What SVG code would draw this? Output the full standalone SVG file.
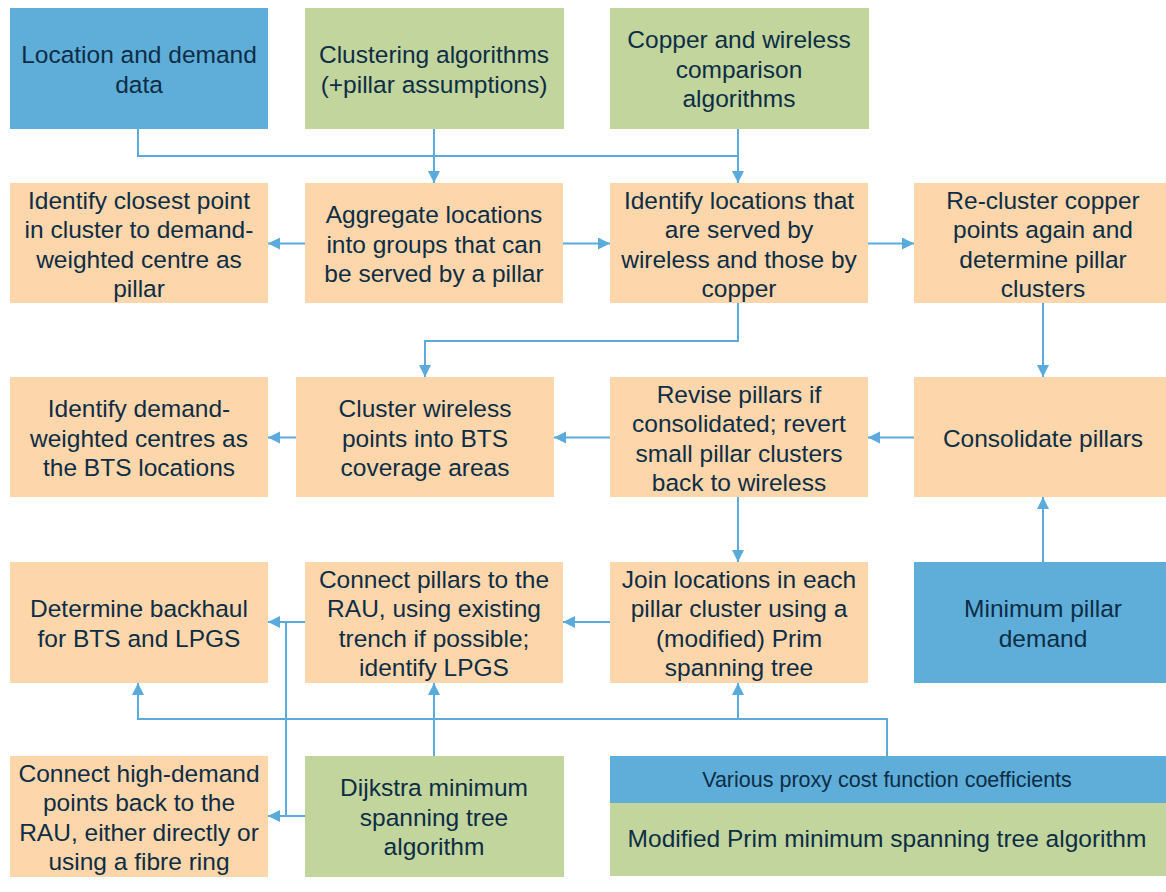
<svg xmlns="http://www.w3.org/2000/svg" width="1166" height="892" viewBox="0 0 1166 892">
  <style>
    .box { stroke: none; }
    .data { fill: #5faed9; }
    .algo { fill: #c1d59d; }
    .step { fill: #fdd6ab; }
    text { font-family: "Liberation Sans", Arial, sans-serif; font-size: 24.5px; fill: #0d2d45; text-anchor: middle; }
    text.small { font-size: 21.5px; }
    .conn path { fill: none; stroke: #5aaadc; stroke-width: 2; }
  </style>
  <defs>
    <marker id="arrow" markerUnits="userSpaceOnUse" markerWidth="13" markerHeight="13" refX="12" refY="6" orient="auto">
      <path d="M0,0 L12,6 L0,12 z" fill="#5aaadc"/>
    </marker>
  </defs>
  <rect width="1166" height="892" fill="#ffffff"/>

  <!-- connectors -->
  <g class="conn">
    <path d="M138,129 V156 H738"/>
    <path d="M434,129 V183" marker-end="url(#arrow)"/>
    <path d="M738,129 V183" marker-end="url(#arrow)"/>
    <path d="M305,243.5 H268" marker-end="url(#arrow)"/>
    <path d="M563,243.5 H610" marker-end="url(#arrow)"/>
    <path d="M868,243.5 H914" marker-end="url(#arrow)"/>
    <path d="M738,303 V341 H425 V377" marker-end="url(#arrow)"/>
    <path d="M1043,303 V377" marker-end="url(#arrow)"/>
    <path d="M914,437.5 H868" marker-end="url(#arrow)"/>
    <path d="M610,437.5 H554" marker-end="url(#arrow)"/>
    <path d="M296,437.5 H268" marker-end="url(#arrow)"/>
    <path d="M1043,562 V497" marker-end="url(#arrow)"/>
    <path d="M738,497 V562" marker-end="url(#arrow)"/>
    <path d="M610,622 H563" marker-end="url(#arrow)"/>
    <path d="M305,622 H268" marker-end="url(#arrow)"/>
    <path d="M286,622 V816"/>
    <path d="M305,816 H268" marker-end="url(#arrow)"/>
    <path d="M434,756 V683" marker-end="url(#arrow)"/>
    <path d="M887,756 V719 H138 V683" marker-end="url(#arrow)"/>
    <path d="M738,719 V683" marker-end="url(#arrow)"/>
  </g>

  <!-- row 1: inputs -->
  <g id="location-demand-data">
    <rect class="box data" x="10" y="8" width="258" height="121"/>
    <text x="139" y="63">Location and demand</text>
    <text x="139" y="93">data</text>
  </g>
  <g id="clustering-algorithms">
    <rect class="box algo" x="305" y="8" width="259" height="121"/>
    <text x="434" y="63">Clustering algorithms</text>
    <text x="434" y="93">(+pillar assumptions)</text>
  </g>
  <g id="copper-wireless-algorithms">
    <rect class="box algo" x="610" y="8" width="259" height="121"/>
    <text x="739" y="48">Copper and wireless</text>
    <text x="739" y="78">comparison</text>
    <text x="739" y="107">algorithms</text>
  </g>

  <!-- row 2 -->
  <g id="closest-point-pillar">
    <rect class="box step" x="10" y="183" width="258" height="120"/>
    <text x="139" y="208.5">Identify closest point</text>
    <text x="139" y="238">in cluster to demand-</text>
    <text x="139" y="267.5">weighted centre as</text>
    <text x="139" y="297">pillar</text>
  </g>
  <g id="aggregate-locations">
    <rect class="box step" x="305" y="183" width="258" height="120"/>
    <text x="434" y="223">Aggregate locations</text>
    <text x="434" y="252.5">into groups that can</text>
    <text x="434" y="282">be served by a pillar</text>
  </g>
  <g id="wireless-or-copper">
    <rect class="box step" x="610" y="183" width="258" height="120"/>
    <text x="739" y="208.5">Identify locations that</text>
    <text x="739" y="238">are served by</text>
    <text x="739" y="267.5">wireless and those by</text>
    <text x="739" y="297">copper</text>
  </g>
  <g id="recluster-copper">
    <rect class="box step" x="914" y="183" width="252" height="120"/>
    <text x="1043" y="208.5">Re-cluster copper</text>
    <text x="1043" y="238">points again and</text>
    <text x="1043" y="267.5">determine pillar</text>
    <text x="1043" y="297">clusters</text>
  </g>

  <!-- row 3 -->
  <g id="bts-locations">
    <rect class="box step" x="10" y="377" width="258" height="120"/>
    <text x="139" y="417">Identify demand-</text>
    <text x="139" y="446.5">weighted centres as</text>
    <text x="139" y="476">the BTS locations</text>
  </g>
  <g id="cluster-wireless">
    <rect class="box step" x="296" y="377" width="258" height="120"/>
    <text x="425" y="417">Cluster wireless</text>
    <text x="425" y="446.5">points into BTS</text>
    <text x="425" y="476">coverage areas</text>
  </g>
  <g id="revise-pillars">
    <rect class="box step" x="610" y="377" width="258" height="120"/>
    <text x="739" y="402.5">Revise pillars if</text>
    <text x="739" y="432">consolidated; revert</text>
    <text x="739" y="461.5">small pillar clusters</text>
    <text x="739" y="491">back to wireless</text>
  </g>
  <g id="consolidate-pillars">
    <rect class="box step" x="914" y="377" width="252" height="120"/>
    <text x="1043" y="446.5">Consolidate pillars</text>
  </g>

  <!-- row 4 -->
  <g id="backhaul">
    <rect class="box step" x="10" y="562" width="258" height="121"/>
    <text x="139" y="617">Determine backhaul</text>
    <text x="139" y="646.5">for BTS and LPGS</text>
  </g>
  <g id="connect-pillars-rau">
    <rect class="box step" x="305" y="562" width="258" height="121"/>
    <text x="434" y="587.5">Connect pillars to the</text>
    <text x="434" y="617">RAU, using existing</text>
    <text x="434" y="646.5">trench if possible;</text>
    <text x="434" y="676">identify LPGS</text>
  </g>
  <g id="join-locations">
    <rect class="box step" x="610" y="562" width="258" height="121"/>
    <text x="739" y="587.5">Join locations in each</text>
    <text x="739" y="617">pillar cluster using a</text>
    <text x="739" y="646.5">(modified) Prim</text>
    <text x="739" y="676">spanning tree</text>
  </g>
  <g id="minimum-pillar-demand">
    <rect class="box data" x="914" y="562" width="252" height="121"/>
    <text x="1043" y="617">Minimum pillar</text>
    <text x="1043" y="646.5">demand</text>
  </g>

  <!-- row 5 -->
  <g id="high-demand-points">
    <rect class="box step" x="10" y="756" width="258" height="121"/>
    <text x="139" y="781.5">Connect high-demand</text>
    <text x="139" y="811">points back to the</text>
    <text x="139" y="840.5">RAU, either directly or</text>
    <text x="139" y="870">using a fibre ring</text>
  </g>
  <g id="dijkstra">
    <rect class="box algo" x="305" y="756" width="259" height="121"/>
    <text x="434" y="796">Dijkstra minimum</text>
    <text x="434" y="825.5">spanning tree</text>
    <text x="434" y="855">algorithm</text>
  </g>
  <g id="proxy-cost-coefficients">
    <rect class="box data" x="610" y="756" width="556" height="47"/>
    <text class="small" x="887" y="787">Various proxy cost function coefficients</text>
  </g>
  <g id="modified-prim">
    <rect class="box algo" x="610" y="803" width="556" height="73"/>
    <text x="887" y="847">Modified Prim minimum spanning tree algorithm</text>
  </g>
</svg>
